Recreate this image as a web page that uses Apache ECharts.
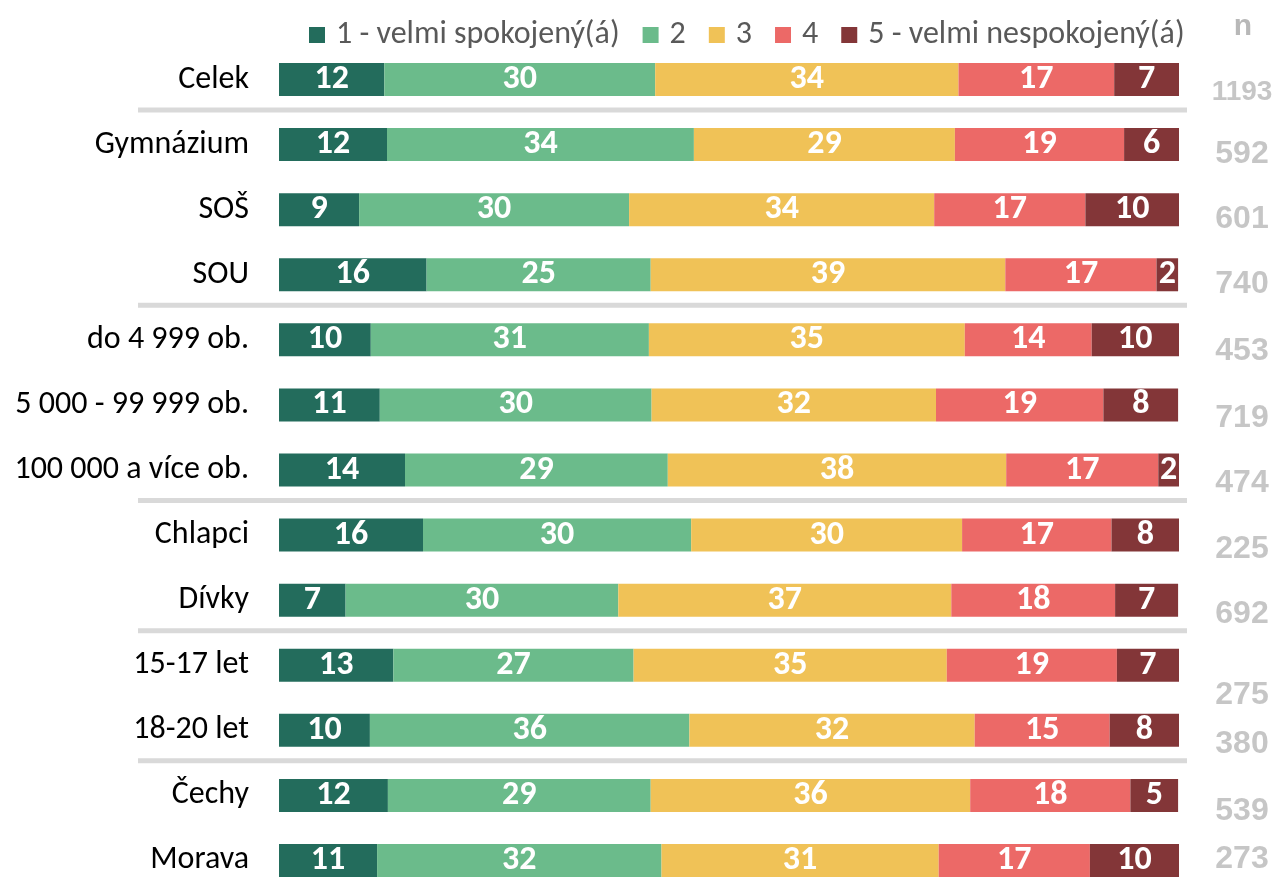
<!DOCTYPE html>
<html>
<head>
<meta charset="utf-8">
<script src="https://cdn.jsdelivr.net/npm/echarts@6/dist/echarts.min.js"></script>
<style>html,body{margin:0;padding:0;background:#fff;}#c{width:1279px;height:877px;}</style>
</head>
<body>
<div id="c"></div>
<script>
var categories = ['Celek','Gymnázium','SOŠ','SOU','do 4 999 ob.','5 000 - 99 999 ob.','100 000 a více ob.','Chlapci','Dívky','15-17 let','18-20 let','Čechy','Morava'];
var seriesNames = ['1 - velmi spokojený(á)','2','3','4','5 - velmi nespokojený(á)'];
var s1 = [11.7, 12.0, 8.9, 16.4, 10.2, 11.2, 14.0, 16.0, 7.4, 12.7, 10.1, 12.1, 10.9];
var s2 = [30.1, 34.1, 30.0, 24.9, 30.9, 30.2, 29.2, 29.8, 30.3, 26.7, 35.5, 29.2, 31.6];
var s3 = [33.7, 29.0, 33.9, 39.4, 35.1, 31.6, 37.6, 30.1, 37.0, 34.8, 31.7, 35.5, 30.8];
var s4 = [17.3, 18.8, 16.8, 16.8, 14.1, 18.6, 16.9, 16.6, 18.2, 18.9, 15.0, 17.8, 16.8];
var s5 = [7.2, 6.1, 10.4, 2.4, 9.7, 8.3, 2.3, 7.5, 7.0, 7.0, 7.7, 5.3, 10.0];
var nValues = [1193, 592, 601, 740, 453, 719, 474, 225, 692, 275, 380, 539, 273];
var groupEnds = [0, 3, 6, 8, 10];

// styling (not data)
var colors = ['#236c5c', '#6bbb8b', '#f0c257', '#ec6967', '#833638'];
var nShift = [13, 10, 9, 9, 11, 13, 13, 14, 14, 30, 14, 16, -1];
var nX = 107;

var font = "Carlito, Lato, 'Noto Sans', sans-serif";
var chart = echarts.init(document.getElementById('c'), null, {renderer: 'canvas'});
var allSeries = [s1, s2, s3, s4, s5];

var series = allSeries.map(function (arr, k) {
  return {
    name: seriesNames[k],
    type: 'bar',
    stack: 'total',
    barWidth: 33,
    data: arr,
    itemStyle: {color: colors[k]},
    label: {
      show: true,
      position: 'inside',
      color: '#fff',
      fontFamily: font,
      fontWeight: 'bold',
      fontSize: 34,
      formatter: function (p) { return Math.round(p.value); }
    },
    emphasis: {disabled: true}
  };
});

series.push({
  type: 'scatter',
  symbolSize: 0,
  clip: false,
  silent: true,
  data: nValues.map(function (n, i) {
    return {
      value: [nX, i],
      label: {offset: [0, nShift[i]], fontSize: String(n).length > 3 ? 28 : 32}
    };
  }),
  label: {
    show: true,
    position: 'inside',
    color: '#b8b8b8',
    fontFamily: "'Liberation Sans', Arial, sans-serif",
    fontWeight: 'bold',
    fontSize: 32,
    formatter: function (p) { return nValues[p.dataIndex]; }
  }
});

chart.setOption({
  animation: false,
  legend: {
    data: seriesNames,
    left: 309,
    top: 19,
    padding: 0,
    itemWidth: 16,
    itemHeight: 16,
    itemGap: 23,
    icon: 'rect',
    selectedMode: false,
    textStyle: {fontFamily: font, fontSize: 32, color: '#595959', padding: [0, 0, 0, 6]}
  },
  grid: {left: 279, width: 900, top: 47, height: 846, containLabel: false, outerBoundsMode: 'none'},
  xAxis: {
    type: 'value', min: 0, max: 100, show: false
  },
  yAxis: {
    type: 'category',
    data: categories,
    inverse: true,
    axisLine: {show: false},
    axisTick: {show: false},
    splitLine: {show: false},
    axisLabel: {margin: 30, fontFamily: font, fontSize: 32, color: '#000'}
  },
  series: series
});

function addGraphics() {
  var els = [];
  groupEnds.forEach(function (i) {
    var y = (chart.convertToPixel({yAxisIndex: 0}, i) + chart.convertToPixel({yAxisIndex: 0}, i + 1)) / 2 - 2;
    els.push({type: 'line', shape: {x1: 138, y1: y, x2: 1187, y2: y}, style: {stroke: '#d9d9d9', lineWidth: 5}, silent: true});
  });
  els.push({type: 'text', x: 1243, y: 27, style: {text: 'n', fontFamily: "'Liberation Sans', Arial, sans-serif", fontWeight: 'bold', fontSize: 30, fill: '#b8b8b8', align: 'center', verticalAlign: 'middle'}, silent: true});
  chart.setOption({graphic: els});
}
addGraphics();
</script>
</body>
</html>
